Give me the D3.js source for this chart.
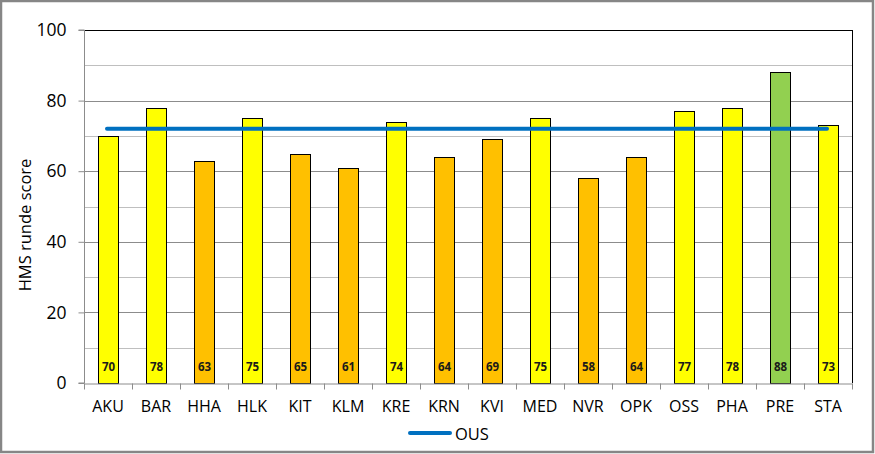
<!DOCTYPE html>
<html><head><meta charset="utf-8">
<script src="https://cdn.jsdelivr.net/npm/d3@7/dist/d3.min.js"></script>
<style>body{margin:0;background:#fff}svg{display:block}</style>
</head><body>
<svg id="c" width="875" height="454"></svg>
<script>
const categories = ["AKU","BAR","HHA","HLK","KIT","KLM","KRE","KRN","KVI","MED","NVR","OPK","OSS","PHA","PRE","STA"];
const scores = [70,78,63,75,65,61,74,64,69,75,58,64,77,78,88,73];
const barColors = ["#FFFF00","#FFFF00","#FFC000","#FFFF00","#FFC000","#FFC000","#FFFF00","#FFC000","#FFC000","#FFFF00","#FFC000","#FFC000","#FFFF00","#FFFF00","#92D050","#FFFF00"];
const ousValue = 72;
const yTicks = [0,20,40,60,80,100];
const yTitle = "HMS runde score";
const legendLabel = "OUS";

const svg = d3.select("#c");
const font = "'Open Sans', sans-serif";
// outer frame
svg.append("rect").attr("x",1).attr("y",1).attr("width",872).attr("height",451)
  .attr("fill","#fff").attr("stroke","#868686").attr("stroke-width",2.5);

const L=84, R=852, T=30, B=383;
const x = d3.scaleBand().domain(categories).range([L,R]);
const y = d3.scaleLinear().domain([0,100]).range([B,T]);

// gridlines
const g = svg.append("g");
d3.range(10,100,10).forEach(v=>{
  g.append("line").attr("x1",L).attr("x2",R).attr("y1",Math.round(y(v))+0.5).attr("y2",Math.round(y(v))+0.5)
   .attr("stroke", v%20===0 ? "#8c8c8c" : "#bfbfbf").attr("stroke-width",1);
});
// top and right border
g.append("line").attr("x1",L).attr("x2",R+0.5).attr("y1",T+0.5).attr("y2",T+0.5).attr("stroke","#000");
g.append("line").attr("x1",R+0.5).attr("x2",R+0.5).attr("y1",T).attr("y2",B).attr("stroke","#000");

// bars
const bw = 20;
svg.append("g").selectAll("rect").data(categories).join("rect")
  .attr("x",d=>Math.round(x(d)+x.bandwidth()/2-bw/2)+0.5)
  .attr("y",(d,i)=>Math.round(y(scores[i]))+0.5)
  .attr("width",bw)
  .attr("height",(d,i)=>B-Math.round(y(scores[i])))
  .attr("fill",(d,i)=>barColors[i]).attr("stroke","#000").attr("stroke-width",1);

// value labels
svg.append("g").selectAll("text").data(categories).join("text")
  .attr("x",d=>x(d)+x.bandwidth()/2+0.5).attr("y",371)
  .attr("text-anchor","middle").attr("font-family",font).attr("font-weight","bold")
  .attr("font-size",11.5).attr("fill","#1a1a1a")
  .text((d,i)=>scores[i]);

// y axis
const ya = svg.append("g").attr("transform",`translate(${L+0.5},0)`)
  .call(d3.axisLeft(y).tickValues(yTicks).tickSize(6).tickPadding(12));
ya.select(".domain").attr("stroke","#8c8c8c").attr("d",`M-6,${B}H0V${T}H-6`);
ya.selectAll(".tick line").attr("stroke","#8c8c8c");
ya.selectAll("text").attr("font-family",font).attr("font-size",17.5).attr("fill","#000");

// x axis
const xa = svg.append("g").attr("transform",`translate(0,${B+0.5})`)
  .call(d3.axisBottom(x).tickSize(0).tickPadding(17));
xa.select(".domain").attr("stroke","#8c8c8c");
xa.selectAll("text").attr("font-family",font).attr("font-size",16).attr("fill","#000");
const sep = categories.map(c=>x(c)).concat([R]);
xa.selectAll(".sep").data(sep).join("line").attr("class","sep")
  .attr("x1",d=>Math.round(d)+0.5).attr("x2",d=>Math.round(d)+0.5).attr("y1",0).attr("y2",6)
  .attr("stroke","#8c8c8c");

// OUS line
const first = categories[0], last = categories[categories.length-1];
svg.append("path")
  .attr("d", d3.line()([[x(first)+x.bandwidth()/2-1, y(ousValue)],[x(last)+x.bandwidth()/2-1, y(ousValue)]]))
  .attr("stroke","#0070C0").attr("stroke-width",4).attr("stroke-linecap","round").attr("fill","none");

// y title
svg.append("text").attr("transform","translate(31,225) rotate(-90)")
  .attr("text-anchor","middle").attr("font-family",font).attr("font-size",16.5).text(yTitle);

// legend
svg.append("line").attr("x1",410).attr("x2",450).attr("y1",433).attr("y2",433)
  .attr("stroke","#0070C0").attr("stroke-width",4).attr("stroke-linecap","round");
svg.append("text").attr("x",455).attr("y",440).attr("font-family",font).attr("font-size",16.5).text(legendLabel);
</script>
</body></html>
